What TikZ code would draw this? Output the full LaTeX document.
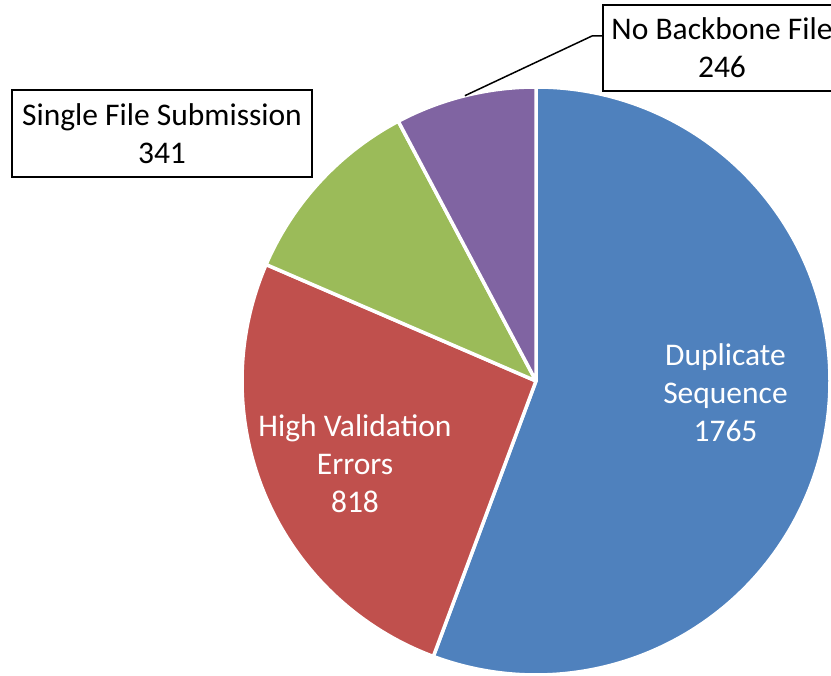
\documentclass[tikz,border=0pt]{standalone}
\usepackage{fontspec}
\setmainfont{Carlito}
\usetikzlibrary{calc}
\definecolor{sliceblue}{HTML}{4F81BD}
\definecolor{slicered}{HTML}{C0504D}
\definecolor{slicegreen}{HTML}{9BBB59}
\definecolor{slicepurple}{HTML}{8064A2}
\begin{document}
\begin{tikzpicture}[x=1pt,y=1pt,
  slice/.style={draw=white,line width=3.5pt,line join=round},
  inlabel/.style={text=white,align=center,inner sep=0pt,font=\fontsize{31.5}{38}\selectfont},
  calloutbox/.style={draw=black,line width=1.4pt,fill=white,align=center,inner sep=0pt,font=\fontsize{31.5}{38}\selectfont},
  leader/.style={draw=black,line width=1.5pt}]
\useasboundingbox (0,0) rectangle (831,676);
\coordinate (c) at (536,295);
\def\R{294}
% slices, clockwise from the top
\filldraw[slice,fill=sliceblue]   (c) -- ++(90:\R) arc[start angle=90,end angle=-110.4416,radius=\R] -- cycle;
\filldraw[slice,fill=slicered]    (c) -- ++(-110.4416:\R) arc[start angle=-110.4416,end angle=-203.3375,radius=\R] -- cycle;
\filldraw[slice,fill=slicegreen]  (c) -- ++(-203.3375:\R) arc[start angle=-203.3375,end angle=-242.0631,radius=\R] -- cycle;
\filldraw[slice,fill=slicepurple] (c) -- ++(-242.0631:\R) arc[start angle=-242.0631,end angle=-270,radius=\R] -- cycle;
% labels inside the large slices
\node[inlabel] (dup) at (725.5,283) {Duplicate\\Sequence\\1765};
\node[inlabel] (hve) at (355,212) {High Validation\\Errors\\818};
% callouts for the small slices
\node[calloutbox,minimum width=300,minimum height=87] (sfs) at (162,542.5) {Single File Submission\\341};
\node[calloutbox,minimum width=238,minimum height=86] (nbf) at (722,628) {No Backbone File\\246};
\coordinate (lead0) at ($(c)+(104:\R)$);
\coordinate (bend) at (592,640);
\draw[leader] (lead0) -- (bend) -- (nbf.west |- bend);
\end{tikzpicture}
\end{document}
